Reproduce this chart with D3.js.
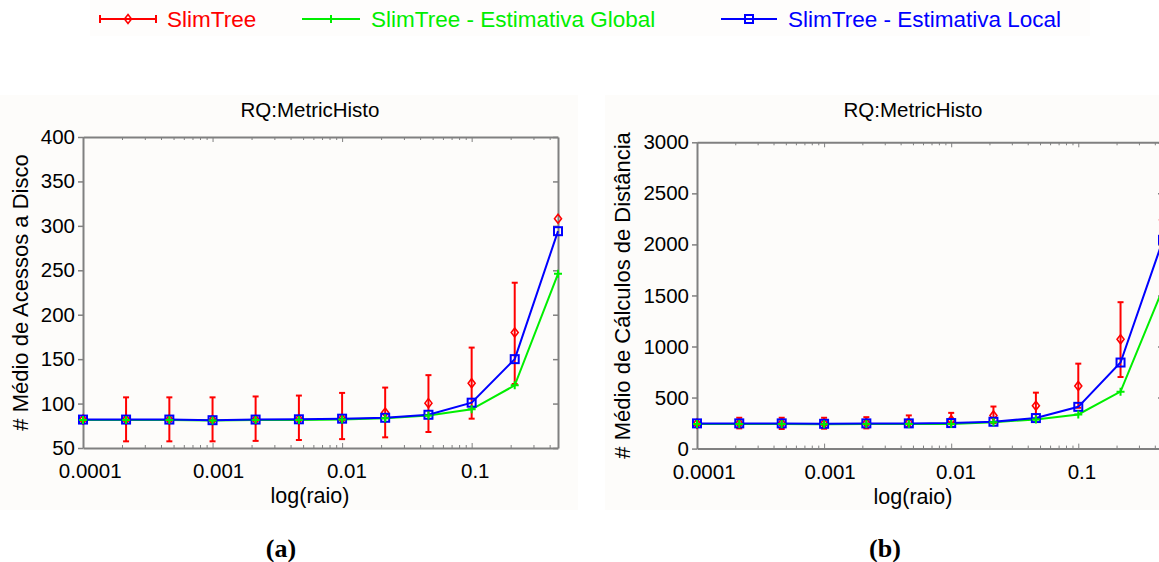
<!DOCTYPE html>
<html>
<head>
<meta charset="utf-8">
<script src="https://cdn.jsdelivr.net/npm/d3@7"></script>
<style>
  body { margin: 0; background: #ffffff; }
  svg { display: block; font-family: "Liberation Sans", Arial, sans-serif; }
</style>
</head>
<body>
<svg id="chart" width="1159" height="562"></svg>
<script>
// Radius values (x axis, log scale)
let raio = [0.0001, 0.000215, 0.000464, 0.001, 0.00215, 0.00464, 0.01, 0.0215, 0.0464, 0.1, 0.215, 0.464];

// (a) disk accesses
let slimA = [82, 82, 82, 81.5, 82, 82.5, 83, 90, 100.5, 123, 180, 308];
let slimALo = [null, 57.5, 57.5, 57.5, 58, 59, 60, 62, 68, 83, 122, null];
let slimAHi = [null, 107, 107, 107, 108, 109, 112, 118, 132, 163, 236, null];
let globalA = [81.5, 81.5, 81.5, 81, 81.5, 81.5, 82, 83.5, 86.5, 93.5, 120.5, 246];
let localA = [82, 82, 82, 81.3, 82, 82.3, 83, 84, 87.4, 101, 150, 294];
let ticksA = [50, 100, 150, 200, 250, 300, 350, 400];

// (b) distance calculations
let slimB = [245, 248, 248, 245, 250, 255, 280, 325, 420, 614, 1070, 2240];
let slimBLo = [null, 198, 192, 195, 198, 211, 214, 250, 290, 400, 701, null];
let slimBHi = [null, 302, 302, 302, 308, 325, 350, 412, 548, 832, 1434, null];
let globalB = [240, 240, 240, 238, 240, 240, 242, 258, 286, 334, 558, 1570];
let localB = [247, 247, 247, 243, 247, 247, 250, 263, 299, 409, 843, 2045];
let ticksB = [0, 500, 1000, 1500, 2000, 2500, 3000];

let xTicks = [0.0001, 0.001, 0.01, 0.1];
let seriesNames = ["SlimTree", "SlimTree - Estimativa Global", "SlimTree - Estimativa Local"];

let RED = "#ff0000", GREEN = "#00ee00", BLUE = "#0000ff", AXIS = "#808080";

let svg = d3.select("#chart");

// panel backgrounds
svg.append("rect").attr("x", 90).attr("y", 0).attr("width", 1000).attr("height", 36).attr("fill", "#fefdfc");
svg.append("rect").attr("x", 0).attr("y", 95).attr("width", 578).attr("height", 415).attr("fill", "#fdfcfa");
svg.append("rect").attr("x", 605).attr("y", 95).attr("width", 554).attr("height", 415).attr("fill", "#fdfcfa");

drawLegend();

drawPanel({
  left: 83, right: 558, top: 137, bottom: 448,
  yDomain: [50, 400], yTicks: ticksA,
  slim: slimA, lo: slimALo, hi: slimAHi, glob: globalA, local: localA,
  ylabel: "# Médio de Acessos a Disco", ylabelX: 20, centerX: 310, tag: "(a)", tagX: 281,
});

drawPanel({
  left: 697, right: 1163, top: 142.3, bottom: 448.6,
  yDomain: [0, 3000], yTicks: ticksB,
  slim: slimB, lo: slimBLo, hi: slimBHi, glob: globalB, local: localB,
  ylabel: "# Médio de Cálculos de Distância", ylabelX: 622, centerX: 913, tag: "(b)", tagX: 885,
});


// -- Function definitions -- //

function drawLegend() {
  let g = svg.append("g").attr("font-size", 22.5);
  let items = [
    {x1: 100, x2: 156, tx: 167, colour: RED, mark: "diamond"},
    {x1: 302, x2: 360, tx: 371, colour: GREEN, mark: "plus"},
    {x1: 721, x2: 777, tx: 788, colour: BLUE, mark: "square"},
  ];
  items.forEach((d, i) => {
    let y = 19;
    g.append("line").attr("x1", d.x1).attr("x2", d.x2).attr("y1", y).attr("y2", y)
      .attr("stroke", d.colour).attr("stroke-width", 2.2);
    if (d.mark === "diamond") {
      g.append("line").attr("x1", d.x1).attr("x2", d.x1).attr("y1", y - 4).attr("y2", y + 4).attr("stroke", RED).attr("stroke-width", 2);
      g.append("line").attr("x1", d.x2).attr("x2", d.x2).attr("y1", y - 4).attr("y2", y + 4).attr("stroke", RED).attr("stroke-width", 2);
    }
    marker(g, d.mark, (d.x1 + d.x2) / 2, y);
    g.append("text").attr("x", d.tx).attr("y", y + 8).attr("fill", d.colour).text(seriesNames[i]);
  });
}

// draw a marker of the given kind at (cx, cy)
function marker(g, kind, cx, cy) {
  if (kind === "diamond") {
    g.append("path").attr("d", `M${cx},${cy - 4.5}L${cx + 3.5},${cy}L${cx},${cy + 4.5}L${cx - 3.5},${cy}Z`)
      .attr("fill", "none").attr("stroke", RED).attr("stroke-width", 1.6);
  } else if (kind === "plus") {
    g.append("path").attr("d", `M${cx - 4},${cy}H${cx + 4}M${cx},${cy - 4}V${cy + 4}`)
      .attr("stroke", GREEN).attr("stroke-width", 2);
  } else {
    g.append("rect").attr("x", cx - 4).attr("y", cy - 4).attr("width", 8).attr("height", 8)
      .attr("fill", "none").attr("stroke", BLUE).attr("stroke-width", 2);
  }
}

function drawPanel(p) {
  let x = d3.scaleLog().domain([0.0001, 0.464]).range([p.left, p.right]);
  let y = d3.scaleLinear().domain(p.yDomain).range([p.bottom, p.top]);
  let g = svg.append("g");

  // title
  g.append("text").attr("x", p.centerX).attr("y", 117).attr("text-anchor", "middle")
    .attr("font-size", 20.5).text("RQ:MetricHisto");

  // minor + major log ticks
  let minor = x.ticks().filter(t => t <= 0.464);
  let isMajor = t => xTicks.some(m => Math.abs(m - t) / m < 1e-6);

  // bottom axis (ticks inward)
  let bottomAxis = d3.axisBottom(x).tickValues(minor).tickSizeInner(-3).tickSizeOuter(0).tickFormat("");
  let ga = g.append("g").attr("transform", `translate(0,${p.bottom})`).call(bottomAxis);
  ga.selectAll(".tick line").filter(t => isMajor(t)).attr("y2", -5);
  let gaTop = g.append("g").attr("transform", `translate(0,${p.top})`)
    .call(d3.axisTop(x).tickValues(minor).tickSizeInner(-3).tickSizeOuter(0).tickFormat(""));
  gaTop.selectAll(".tick line").filter(t => isMajor(t)).attr("y2", 5);
  [ga, gaTop].forEach(a => {
    a.select(".domain").attr("stroke", AXIS).attr("stroke-width", 2);
    a.selectAll(".tick line").attr("stroke", AXIS);
  });

  // x tick labels
  g.append("g").selectAll("text").data(xTicks).join("text")
    .attr("x", d => x(d)).attr("dx", d => String(d).length * 1.2)
    .attr("y", p.bottom + 30).attr("text-anchor", "middle")
    .attr("font-size", 20.5).text(d => String(d));

  // left axis (ticks outward) and right axis (ticks inward)
  let gl = g.append("g").attr("transform", `translate(${p.left},0)`)
    .call(d3.axisLeft(y).tickValues(p.yTicks).tickSize(5).tickSizeOuter(0).tickPadding(3).tickFormat(d3.format("d")));
  gl.selectAll(".tick text").attr("font-size", 20.5).attr("fill", "#000")
    .attr("font-family", "Liberation Sans, Arial, sans-serif");
  let gr = g.append("g").attr("transform", `translate(${p.right},0)`)
    .call(d3.axisRight(y).tickValues(p.yTicks).tickSize(-5).tickSizeOuter(0).tickFormat(""));
  [gl, gr].forEach(a => {
    a.select(".domain").attr("stroke", AXIS).attr("stroke-width", 2);
    a.selectAll(".tick line").attr("stroke", AXIS).attr("stroke-width", 1.5);
  });

  // axis labels
  g.append("text").attr("x", p.centerX).attr("y", p.bottom + 55).attr("text-anchor", "middle")
    .attr("font-size", 21.5).text("log(raio)");
  g.append("text").attr("transform", `translate(${p.ylabelX},${(p.top + p.bottom) / 2}) rotate(-90)`)
    .attr("text-anchor", "middle").attr("dy", "0.35em").attr("font-size", 22).text(p.ylabel);

  // panel tag
  svg.append("text").attr("x", p.tagX).attr("y", 557).attr("text-anchor", "middle")
    .attr("font-family", "Liberation Serif, Times New Roman, serif").attr("font-weight", "bold")
    .attr("font-size", 26).text(p.tag);

  let idx = d3.range(raio.length);

  // red error bars
  let eb = g.append("g").attr("stroke", RED).attr("stroke-width", 2);
  idx.filter(i => p.lo[i] !== null).forEach(i => {
    let cx = x(raio[i]);
    eb.append("line").attr("x1", cx).attr("x2", cx).attr("y1", y(p.lo[i])).attr("y2", y(p.hi[i]));
    eb.append("line").attr("x1", cx - 3).attr("x2", cx + 3).attr("y1", y(p.lo[i])).attr("y2", y(p.lo[i]));
    eb.append("line").attr("x1", cx - 3).attr("x2", cx + 3).attr("y1", y(p.hi[i])).attr("y2", y(p.hi[i]));
  });

  // lines
  let line = vals => d3.line().x((d, i) => x(raio[i])).y(d => y(d))(vals);
  g.append("path").attr("d", line(p.glob)).attr("fill", "none").attr("stroke", GREEN).attr("stroke-width", 2);
  g.append("path").attr("d", line(p.local)).attr("fill", "none").attr("stroke", BLUE).attr("stroke-width", 2);

  // markers
  let mk = g.append("g");
  idx.forEach(i => marker(mk, "diamond", x(raio[i]), y(p.slim[i])));
  idx.forEach(i => marker(mk, "square", x(raio[i]), y(p.local[i])));
  idx.forEach(i => marker(mk, "plus", x(raio[i]), y(p.glob[i])));
}
</script>
</body>
</html>
